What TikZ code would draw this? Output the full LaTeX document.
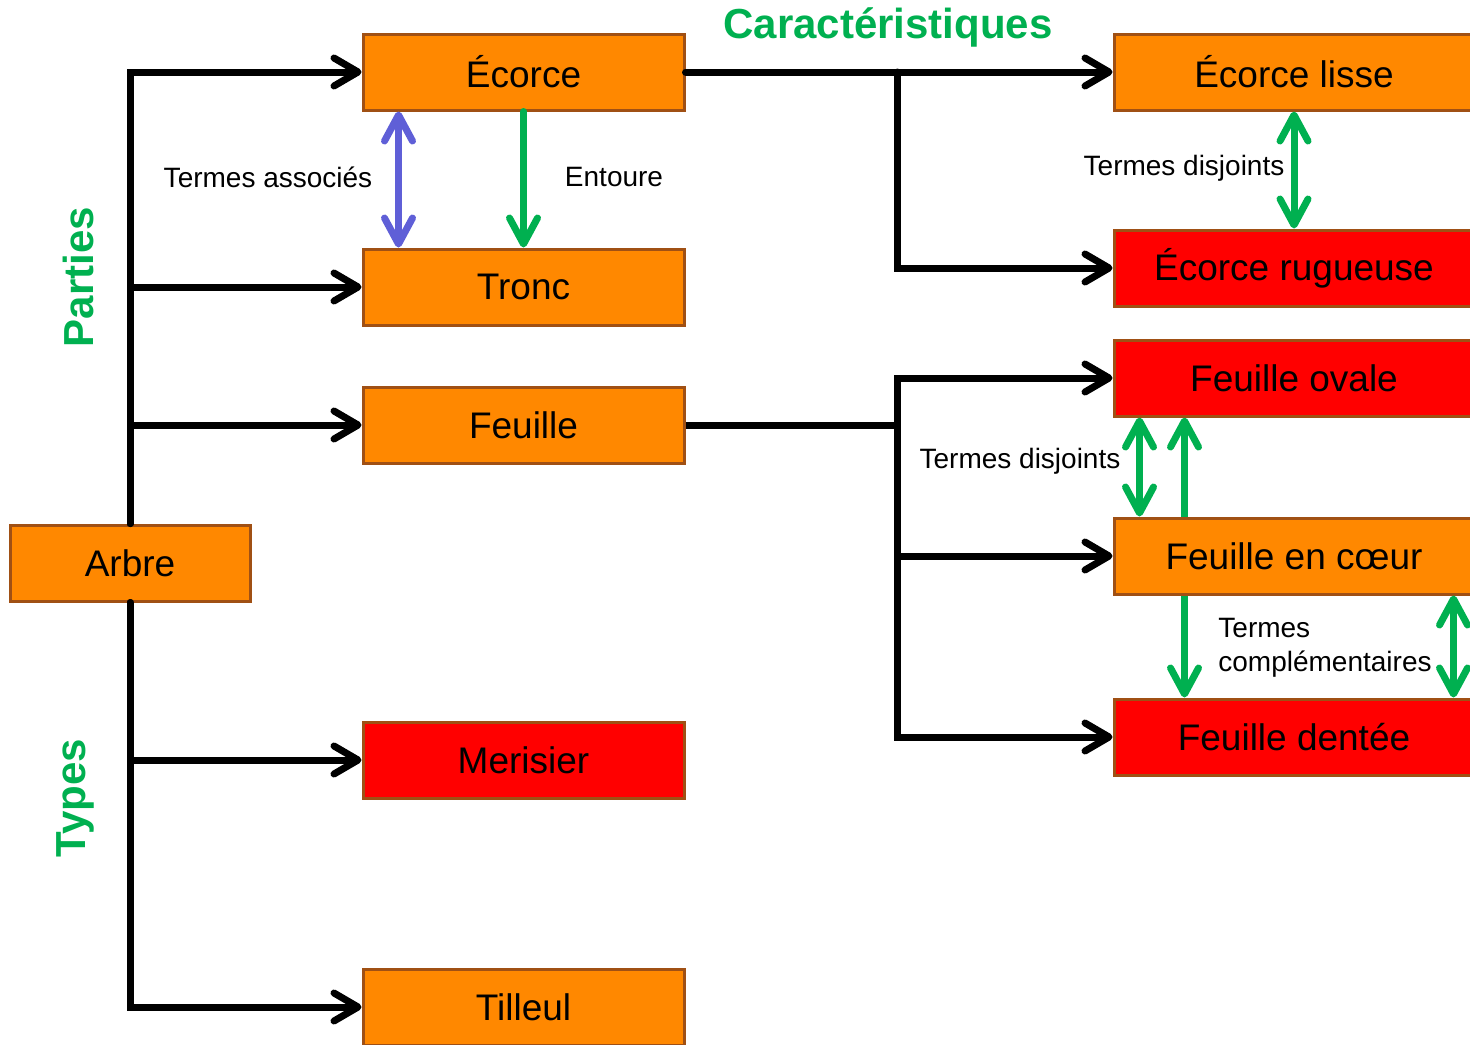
\documentclass[tikz,border=0pt]{standalone}
\usepackage{fontspec}
\setmainfont{Liberation Sans}
\usepackage{xcolor}
\usetikzlibrary{arrows.meta, positioning, backgrounds}
\definecolor{treeOrange}{RGB}{255,136,0}
\definecolor{treeRed}{RGB}{255,0,0}
\definecolor{treeBorder}{RGB}{160,80,20}
\definecolor{treeGreen}{RGB}{0,176,80}
\definecolor{treeBlue}{RGB}{95,95,215}

\tikzset{
  termbox/.style={draw=treeBorder, line width=1.5pt, fill=treeOrange,
    minimum width=160.5pt, minimum height=38pt, inner sep=0pt,
    font=\fontsize{18.5}{22}\selectfont},
  redbox/.style={termbox, fill=treeRed},
  widebox/.style={minimum width=180pt},
  link/.style={line width=3.5pt, line cap=round,
    -{Straight Barb[length=12pt,width=14pt,line cap=round,line join=round]}},
  rel/.style={line width=3.5pt, line cap=round,
    {Straight Barb[length=13pt,width=14pt,line cap=round,line join=round]}-{Straight Barb[length=13pt,width=14pt,line cap=round,line join=round]}},
  relone/.style={line width=3.5pt, line cap=round,
    -{Straight Barb[length=13pt,width=14pt,line cap=round,line join=round]}},
  caption/.style={font=\fontsize{14}{17}\selectfont, inner sep=0pt},
  heading/.style={text=treeGreen, font=\fontsize{21}{24}\selectfont\bfseries, inner sep=0pt}
}

\begin{document}
\begin{tikzpicture}[x=0.5pt, y=-0.5pt]
  \useasboundingbox (0,0) rectangle (1470,1044);

  % parts and types
  \node[termbox, minimum width=120pt] (arbre) at (130,563) {Arbre};
  \node[termbox] (ecorce) at (523.5,72) {Écorce};
  \node[termbox] (tronc) at (523.5,287) {Tronc};
  \node[termbox] (feuille) at (523.5,425) {Feuille};
  \node[redbox] (merisier) at (523.5,760) {Merisier};
  \node[termbox] (tilleul) at (523.5,1007) {Tilleul};

  % characteristics
  \node[termbox, widebox] (lisse) at (1294,72) {Écorce lisse};
  \node[redbox, widebox] (rugueuse) at (1294,268) {Écorce rugueuse};
  \node[redbox, widebox] (ovale) at (1294,378) {Feuille ovale};
  \node[termbox, widebox] (coeur) at (1294,556) {Feuille en cœur};
  \node[redbox, widebox] (dentee) at (1294,737) {Feuille dentée};

  \node[heading] (carac) at (888,27) {Caractéristiques};
  \node[heading, rotate=90] (parties) at (78,277) {Parties};
  \node[heading, rotate=90] (types) at (75,798) {Types};

  \coordinate (ebranch) at (897,72);
  \coordinate (fbranch) at (897,425);

  % tree links
  \draw[link] (arbre.north) |- (ecorce.west);
  \draw[link] (arbre.north) |- (tronc.west);
  \draw[link] (arbre.north) |- (feuille.west);
  \draw[link] (arbre.south) |- (merisier.west);
  \draw[link] (arbre.south) |- (tilleul.west);

  \draw[link] (ecorce.east) -- (lisse.west);
  \draw[link] (ebranch) |- (rugueuse.west);
  \draw[line width=3.5pt] (feuille.east) -- (fbranch);
  \draw[link] (fbranch) |- (ovale.west);
  \draw[link] (fbranch) |- (coeur.west);
  \draw[link] (fbranch) |- (dentee.west);

  % relations
  \draw[rel, treeBlue] ([xshift=18.5pt]ecorce.south west) -- ([xshift=18.5pt]tronc.north west);
  \draw[relone, treeGreen] (ecorce.south) -- (tronc.north);
  \draw[rel, treeGreen] (lisse.south) -- (rugueuse.north);
  \draw[rel, treeGreen] ([xshift=13.5pt]ovale.south west) -- ([xshift=13.5pt]coeur.north west);
  \begin{scope}[on background layer]
    \draw[rel, treeGreen] ([xshift=36pt]ovale.south west) -- ([xshift=36pt]dentee.north west);
  \end{scope}
  \draw[rel, treeGreen] ([xshift=170.5pt]coeur.south west) -- ([xshift=170.5pt]dentee.north west);

  \node[caption] (associes) at (268,177) {Termes associés};
  \node[caption] (entoure) at (614,177) {Entoure};
  \node[caption] (disjointsA) at (1184,168) {Termes disjoints};
  \node[caption] (disjointsB) at (1020,461) {Termes disjoints};
  \node[caption, align=left, anchor=west] (complem) at (1218,648) {Termes\\complémentaires};
\end{tikzpicture}
\end{document}
